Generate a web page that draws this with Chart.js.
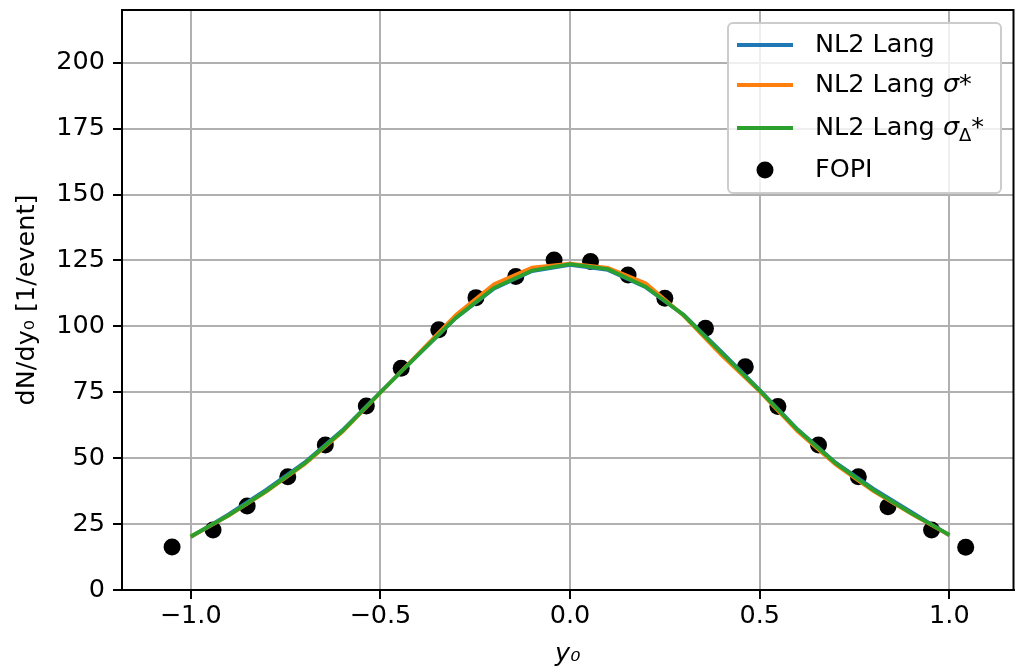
<!DOCTYPE html>
<html>
<head>
<meta charset="utf-8">
<script src="https://cdn.jsdelivr.net/npm/chart.js@4"></script>
<style>
  html, body { margin: 0; padding: 0; background: #fff; }
  #wrap { width: 1022px; height: 670px; }
</style>
</head>
<body>
<div id="wrap"><canvas id="myChart" width="1022" height="670"></canvas></div>
<script>
// model curves, sampled in y0
var curveX = [-1.0, -0.9, -0.8, -0.7, -0.6, -0.5, -0.4, -0.3, -0.2, -0.1, 0.0,
              0.1, 0.2, 0.3, 0.4, 0.5, 0.6, 0.7, 0.8, 0.9, 1.0];
var nl2Lang = [20.1, 28.7, 38.1, 48.3, 60.6, 75.0, 89.3, 103.3, 114.4, 121.0, 123.3,
               121.4, 114.8, 104.3, 90.2, 75.8, 60.9, 48.3, 38.4, 29.5, 20.7];
var nl2LangSigma = [20.2, 28.2, 37.4, 47.7, 60.0, 74.8, 89.6, 104.4, 116.0, 122.3, 123.8,
                    122.2, 116.3, 104.0, 89.0, 75.3, 60.2, 47.6, 37.5, 28.9, 20.8];
var nl2LangSigmaDelta = [20.3, 28.3, 37.6, 48.0, 60.3, 74.9, 89.3, 103.4, 114.6, 121.2, 123.6,
                         121.7, 115.0, 104.2, 89.8, 75.6, 60.7, 48.1, 37.9, 29.1, 20.9];

// FOPI data points
var fopiX = [-1.049, -0.941, -0.851, -0.744, -0.645, -0.537, -0.445, -0.346, -0.248, -0.143, -0.042,
             0.054, 0.153, 0.250, 0.357, 0.462, 0.548, 0.655, 0.760, 0.838, 0.953, 1.043];
var fopiY = [16.3, 22.8, 31.9, 43.0, 55.0, 69.8, 84.1, 98.7, 110.9, 118.9, 125.2,
             124.6, 119.5, 110.7, 99.3, 84.7, 69.6, 55.0, 43.0, 31.6, 22.8, 16.2];

var xTicks = [-1.0, -0.5, 0.0, 0.5, 1.0];
var yTicks = [0, 25, 50, 75, 100, 125, 150, 175, 200];

function pts(xs, ys) {
    return xs.map(function (x, i) { return { x: x, y: ys[i] }; });
}

var FONT = 'DejaVu Sans';
var FS = 25.5;

// matplotlib-like frame + legend inside the axes
var framePlugin = {
    id: 'frame',
    afterDraw: function (chart) {
        var c = chart.ctx, a = chart.chartArea;
        c.save();
        c.strokeStyle = '#000';
        c.lineWidth = 2;
        c.strokeRect(a.left, a.top, a.right - a.left, a.bottom - a.top);

        // legend box
        var bx = 728, by = 23, bw = 273, bh = 170, r = 5;
        c.beginPath();
        c.moveTo(bx + r, by);
        c.arcTo(bx + bw, by, bx + bw, by + bh, r);
        c.arcTo(bx + bw, by + bh, bx, by + bh, r);
        c.arcTo(bx, by + bh, bx, by, r);
        c.arcTo(bx, by, bx + bw, by, r);
        c.closePath();
        c.fillStyle = 'rgba(255,255,255,0.8)';
        c.fill();
        c.strokeStyle = '#cccccc';
        c.lineWidth = 2;
        c.stroke();

        var rows = [45, 85, 128, 170];
        chart.data.datasets.forEach(function (ds, i) {
            var y = rows[i];
            if (ds.showLine) {
                c.strokeStyle = ds.borderColor;
                c.lineWidth = 3.8;
                c.beginPath();
                c.moveTo(737, y);
                c.lineTo(793, y);
                c.stroke();
            } else {
                c.fillStyle = ds.backgroundColor;
                c.beginPath();
                c.arc(765, y, 8.5, 0, Math.PI * 2);
                c.fill();
            }
            drawRich(c, ds.label, 815, y);
        });
        c.restore();
    }
};

// σ in italic, Δ after σ as a subscript
function drawRich(c, text, x, y) {
    c.fillStyle = '#000';
    c.textBaseline = 'middle';
    c.textAlign = 'left';
    for (var i = 0; i < text.length; i++) {
        var ch = text[i], dy = 0;
        if (ch === 'σ') {
            c.font = 'italic ' + FS + 'px "' + FONT + '"';
        } else if (ch === 'Δ') {
            c.font = '18px "' + FONT + '"';
            dy = 8;
        } else {
            c.font = FS + 'px "' + FONT + '"';
        }
        c.fillText(ch, x, y + dy);
        x += c.measureText(ch).width;
    }
}

function noPad(s) {
    s.paddingTop = 0; s.paddingBottom = 0; s.paddingLeft = 0; s.paddingRight = 0;
}

var ctx = document.getElementById('myChart').getContext('2d');
var myChart = new Chart(ctx, {
    type: 'scatter',
    data: {
        datasets: [{
            label: 'NL2 Lang',
            data: pts(curveX, nl2Lang),
            showLine: true,
            borderColor: '#1f77b4',
            backgroundColor: '#1f77b4',
            borderWidth: 3.8,
            pointRadius: 0,
            tension: 0,
            order: 3
        }, {
            label: 'NL2 Lang σ*',
            data: pts(curveX, nl2LangSigma),
            showLine: true,
            borderColor: '#ff7f0e',
            backgroundColor: '#ff7f0e',
            borderWidth: 3.8,
            pointRadius: 0,
            tension: 0,
            order: 2
        }, {
            label: 'NL2 Lang σΔ*',
            data: pts(curveX, nl2LangSigmaDelta),
            showLine: true,
            borderColor: '#2ca02c',
            backgroundColor: '#2ca02c',
            borderWidth: 3.8,
            pointRadius: 0,
            tension: 0,
            order: 1
        }, {
            label: 'FOPI',
            data: pts(fopiX, fopiY),
            showLine: false,
            backgroundColor: '#000',
            borderColor: '#000',
            pointRadius: 8.5,
            borderWidth: 0,
            order: 4
        }]
    },
    options: {
        responsive: false,
        animation: false,
        layout: { padding: { top: 10, right: 3, bottom: 0, left: 0 } },
        plugins: {
            legend: { display: false },
            tooltip: { enabled: false }
        },
        scales: {
            x: {
                type: 'linear',
                min: -1.181,
                max: 1.169,
                afterBuildTicks: function (s) { s.ticks = xTicks.map(function (v) { return { value: v }; }); },
                afterFit: function (s) { s.height = 80; noPad(s); },
                ticks: {
                    color: '#000',
                    padding: 2,
                    font: { family: FONT, size: FS },
                    callback: function (v) { return v.toFixed(1).replace('-', '\u2212'); }
                },
                grid: { color: '#b0b0b0', lineWidth: 2, tickColor: '#000', tickLength: 9, tickWidth: 2 },
                border: { color: '#000', width: 2 },
                title: {
                    display: true,
                    text: 'y₀',
                    color: '#000',
                    padding: { top: 0, bottom: 0 },
                    font: { family: FONT, size: FS, style: 'italic' }
                }
            },
            y: {
                min: 0,
                max: 220,
                afterBuildTicks: function (s) { s.ticks = yTicks.map(function (v) { return { value: v }; }); },
                afterFit: function (s) { s.width = 122; noPad(s); },
                ticks: {
                    color: '#000',
                    padding: 8,
                    font: { family: FONT, size: FS }
                },
                grid: { color: '#b0b0b0', lineWidth: 2, tickColor: '#000', tickLength: 9, tickWidth: 2 },
                border: { color: '#000', width: 2 },
                title: {
                    display: true,
                    text: 'dN/dy₀ [1/event]',
                    color: '#000',
                    padding: { top: 12, bottom: 0 },
                    font: { family: FONT, size: FS }
                }
            }
        }
    },
    plugins: [framePlugin]
});
</script>
</body>
</html>
